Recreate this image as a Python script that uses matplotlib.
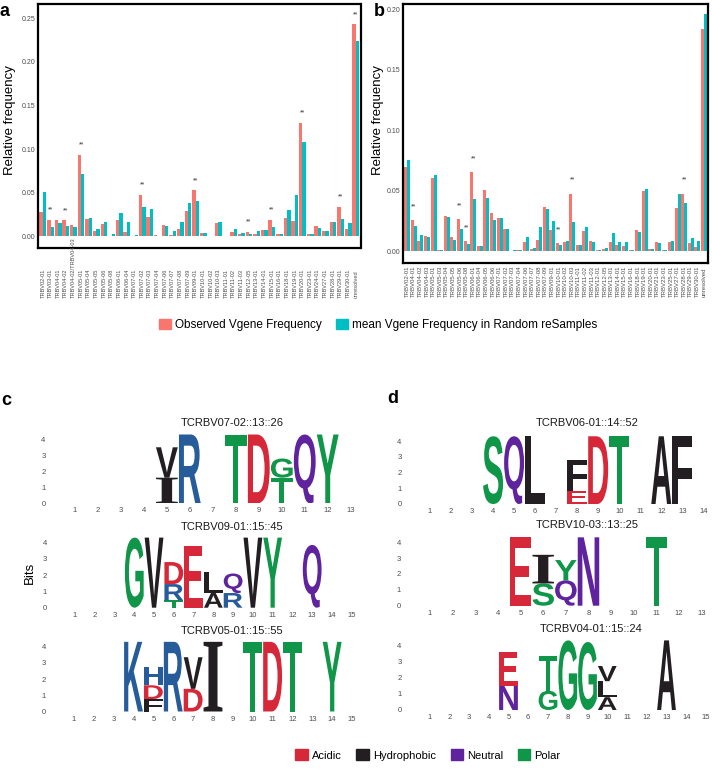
import matplotlib
matplotlib.use('Agg')
import matplotlib.pyplot as plt
import matplotlib.transforms as mtransforms
import numpy as np
from matplotlib.patches import Patch, PathPatch
from matplotlib.textpath import TextPath
from matplotlib.font_manager import FontProperties

plt.rcParams['font.family'] = ['Liberation Sans', 'DejaVu Sans']

# ---- panel a data ----
genes_a = ['TRBV02-01', 'TRBV03-01', 'TRBV04-01', 'TRBV04-02', 'TRBV04-02/TRBV04-03', 'TRBV05-01',
           'TRBV05-04', 'TRBV05-05', 'TRBV05-06', 'TRBV05-08', 'TRBV06-01', 'TRBV06-04', 'TRBV07-01',
           'TRBV07-02', 'TRBV07-03', 'TRBV07-04', 'TRBV07-06', 'TRBV07-07', 'TRBV07-08', 'TRBV07-09',
           'TRBV09-01', 'TRBV10-01', 'TRBV10-02', 'TRBV10-03', 'TRBV11-01', 'TRBV11-02', 'TRBV11-03',
           'TRBV12-05', 'TRBV13-01', 'TRBV14-01', 'TRBV15-01', 'TRBV16-01', 'TRBV18-01', 'TRBV19-01',
           'TRBV20-01', 'TRBV23-01', 'TRBV24-01', 'TRBV27-01', 'TRBV28-01', 'TRBV29-01', 'TRBV30-01',
           'unresolved']
obs_a = [0.0276, 0.019, 0.019, 0.0184, 0.0134, 0.0934, 0.0199, 0.0057, 0.0142, 0.0008, 0.0192,
         0.0046, 0.0008, 0.0479, 0.0222, 0.0019, 0.0126, 0.0012, 0.0088, 0.0295, 0.0525, 0.0038,
         0.0004, 0.0153, 0.0008, 0.0054, 0.0027, 0.0054, 0.0031, 0.0077, 0.0192, 0.0031, 0.0211,
         0.0172, 0.130, 0.0027, 0.0123, 0.0065, 0.0165, 0.0337, 0.0088, 0.243]
rnd_a = [0.0506, 0.011, 0.0153, 0.0115, 0.0103, 0.0716, 0.0211, 0.0084, 0.0165, 0.0023, 0.0268,
         0.0169, 0.0012, 0.0333, 0.0318, 0.0004, 0.0115, 0.0065, 0.0161, 0.0379, 0.041, 0.0038,
         0.0008, 0.0169, 0.0004, 0.0088, 0.0042, 0.0023, 0.0065, 0.0077, 0.0107, 0.0031, 0.0306,
         0.0472, 0.108, 0.0027, 0.0096, 0.0065, 0.0165, 0.0199, 0.0153, 0.2235]
sig_a = [1, 3, 5, 13, 20, 27, 30, 34, 39, 41]

# ---- panel b data ----
genes_b = ['TRBV02-01', 'TRBV04-01', 'TRBV04-02', 'TRBV04-03', 'TRBV05-01', 'TRBV05-03', 'TRBV05-04',
           'TRBV05-05', 'TRBV05-06', 'TRBV05-08', 'TRBV06-01', 'TRBV06-04', 'TRBV06-05', 'TRBV06-06',
           'TRBV07-01', 'TRBV07-02', 'TRBV07-03', 'TRBV07-04', 'TRBV07-06', 'TRBV07-07', 'TRBV07-08',
           'TRBV07-09', 'TRBV09-01', 'TRBV10-01', 'TRBV10-02', 'TRBV10-03', 'TRBV11-01', 'TRBV11-02',
           'TRBV11-03', 'TRBV12-01', 'TRBV12-05', 'TRBV13-01', 'TRBV14-01', 'TRBV15-01', 'TRBV16-01',
           'TRBV18-01', 'TRBV19-01', 'TRBV20-01', 'TRBV21-01', 'TRBV23-01', 'TRBV25-01', 'TRBV27-01',
           'TRBV28-01', 'TRBV29-01', 'TRBV30-01', 'unresolved']
obs_b = [0.070, 0.0256, 0.0083, 0.0124, 0.061, 0.0008, 0.029, 0.0118, 0.0264, 0.0085, 0.0656,
         0.0047, 0.0504, 0.0317, 0.0273, 0.0185, 0.0, 0.0008, 0.0077, 0.0017, 0.0094, 0.0364,
         0.0176, 0.0066, 0.0077, 0.0477, 0.005, 0.0168, 0.0085, 0.0008, 0.0019, 0.0074, 0.0052,
         0.0047, 0.0008, 0.0174, 0.0499, 0.0019, 0.0074, 0.0008, 0.0074, 0.0358, 0.0477, 0.0066,
         0.0036, 0.184]
rnd_b = [0.0755, 0.0207, 0.0135, 0.0118, 0.063, 0.0008, 0.028, 0.0094, 0.0185, 0.0058, 0.043,
         0.0041, 0.0444, 0.0262, 0.0278, 0.0185, 0.0008, 0.0008, 0.0118, 0.0025, 0.020, 0.0347,
         0.0251, 0.0052, 0.0088, 0.0242, 0.0055, 0.020, 0.0074, 0.0008, 0.0025, 0.0149, 0.0077,
         0.0077, 0.0008, 0.0157, 0.0515, 0.0019, 0.0066, 0.001, 0.0085, 0.0477, 0.040, 0.011,
         0.0085, 0.196]
sig_b = [1, 8, 9, 10, 23, 25, 42]

# ---- logo data: position -> stack of (letter, bits), bottom to top ----
title_c1 = 'TCRBV07-02::13::26'
len_c1 = 13
stacks_c1 = {5: [('I', 1.6), ('V', 1.9)], 6: [('R', 4.3)], 8: [('T', 4.3)], 9: [('D', 4.3)],
             10: [('T', 1.6), ('G', 1.2)], 11: [('Q', 4.3)], 12: [('Y', 4.3)]}

title_c2 = 'TCRBV09-01::15::45'
len_c2 = 15
stacks_c2 = {4: [('G', 4.3)], 5: [('V', 4.3)], 6: [('T', 0.45), ('R', 1.0), ('D', 1.35)],
             7: [('E', 3.8)], 8: [('A', 0.9), ('L', 1.3)], 9: [('R', 0.9), ('Q', 1.2)],
             10: [('V', 4.3)], 11: [('Y', 4.3)], 13: [('Q', 3.85)]}

title_c3 = 'TCRBV05-01::15::55'
len_c3 = 15
stacks_c3 = {4: [('K', 4.3)], 5: [('F', 0.77), ('D', 0.85), ('H', 1.12)], 6: [('R', 4.3)],
             7: [('D', 1.4), ('V', 1.95)], 8: [('I', 4.3)], 10: [('T', 4.3)], 11: [('D', 4.3)],
             12: [('T', 4.3)], 14: [('Y', 4.3)]}

title_d1 = 'TCRBV06-01::14::52'
len_d1 = 14
stacks_d1 = {4: [('S', 4.3)], 5: [('Q', 4.3)], 6: [('L', 4.3)], 8: [('E', 0.85), ('F', 1.95)],
             9: [('D', 4.3)], 10: [('T', 4.3)], 12: [('A', 4.3)], 13: [('F', 4.3)]}

title_d2 = 'TCRBV10-03::13::25'
len_d2 = 13
stacks_d2 = {5: [('E', 4.3)], 6: [('S', 1.4), ('I', 1.8)], 7: [('Q', 1.6), ('Y', 1.27)],
             8: [('N', 4.3)], 11: [('T', 4.3)]}

title_d3 = 'TCRBV04-01::15::24'
len_d3 = 15
stacks_d3 = {5: [('N', 1.5), ('E', 2.1)], 7: [('G', 1.2), ('T', 2.2)], 8: [('G', 4.35)],
             9: [('G', 4.25)], 10: [('A', 0.8), ('L', 1.0), ('V', 0.95)], 13: [('A', 4.35)]}

classes = ['Acidic', 'Hydrophobic', 'Neutral', 'Polar']

RED = '#F8766D'
CYAN = '#00BFC4'
CHEM = {'Polar': '#109648', 'Neutral': '#5E239D', 'Basic': '#255C99',
        'Acidic': '#D62839', 'Hydrophobic': '#221E22'}
AA_CLASS = {}
for a in 'GSTYC':
    AA_CLASS[a] = 'Polar'
for a in 'QN':
    AA_CLASS[a] = 'Neutral'
for a in 'KRH':
    AA_CLASS[a] = 'Basic'
for a in 'DE':
    AA_CLASS[a] = 'Acidic'
for a in 'AVLIPWFM':
    AA_CLASS[a] = 'Hydrophobic'

W, H = 712, 769
fig = plt.figure(figsize=(W / 100, H / 100), dpi=100)


def rect(l, t, r, b):
    return [l / W, 1 - b / H, (r - l) / W, (b - t) / H]


def fy(y):
    return 1 - y / H


GREY = '#4d4d4d'


def bar_panel(box, genes, obs, rnd, sig, ylim, yticks, label_fs, label_bottom):
    ax = fig.add_axes(rect(*box))
    x = np.arange(len(genes))
    ax.bar(x - 0.225, obs, width=0.45, color=RED, linewidth=0)
    ax.bar(x + 0.225, rnd, width=0.45, color=CYAN, linewidth=0)
    for i in sig:
        top = max(obs[i], rnd[i]) + 0.011
        if top < ylim[1]:
            ax.text(i, top, '**', ha='center', va='center', fontsize=5, color='#333333')
    ax.set_xlim(-0.6, len(genes) - 0.4)
    ax.set_ylim(*ylim)
    ax.set_yticks(yticks)
    ax.set_yticklabels([f'{v:.2f}' for v in yticks])
    ax.set_xticks([])
    ax.tick_params(axis='y', length=0, labelsize=5, labelcolor=GREY, pad=2)
    for s in ax.spines.values():
        s.set_linewidth(1.6)
    trans = mtransforms.blended_transform_factory(ax.transData, fig.transFigure)
    for i, g in enumerate(genes):
        ax.text(i, fy(label_bottom), g, rotation=90, ha='center', va='bottom',
                fontsize=label_fs, color=GREY, transform=trans)
    return ax


bar_panel((38.3, 4, 360.5, 248.3), genes_a, obs_a, rnd_a, sig_a, (-0.0138, 0.2664),
          [0, 0.05, 0.10, 0.15, 0.20, 0.25], 4.1, 298)
bar_panel((403.3, 4, 708, 262.7), genes_b, obs_b, rnd_b, sig_b, (-0.0094, 0.2044),
          [0, 0.05, 0.10, 0.15, 0.20], 4.3, 297)

fig.text(10 / W, fy(120), 'Relative frequency', rotation=90, ha='center', va='center', fontsize=9.5)
fig.text(378 / W, fy(120), 'Relative frequency', rotation=90, ha='center', va='center', fontsize=9.5)

leg1 = [Patch(color=RED, label='Observed Vgene Frequency'),
        Patch(color=CYAN, label='mean Vgene Frequency in Random reSamples')]
fig.legend(handles=leg1, loc='center', bbox_to_anchor=(378 / W, fy(325)), ncol=2, frameon=False,
           fontsize=8.5, handlelength=1.0, handleheight=1.0, handletextpad=0.35, columnspacing=1.2)

# ---- logos ----
letter_font = FontProperties(family='Liberation Sans', weight='bold')
serif_i_font = FontProperties(family='Liberation Serif', weight='bold')


def draw_letter(ax, ch, x, y0, h, w=0.95):
    prop = serif_i_font if ch == 'I' else letter_font
    tp = TextPath((0, 0), ch, size=1, prop=prop)
    bb = tp.get_extents()
    t = (mtransforms.Affine2D().translate(-bb.x0, -bb.y0)
         .scale(w / bb.width, h / bb.height).translate(x - w / 2, y0))
    ax.add_patch(PathPatch(t.transform_path(tp), fc=CHEM[AA_CLASS[ch]], ec='none', lw=0))


def logo_panel(l, r, zero_y, ppb, n, stacks, title, title_x):
    ymax = 4.5
    ax = fig.add_axes(rect(l, zero_y - ymax * ppb, r, zero_y))
    for pos, stack in stacks.items():
        y0 = 0
        for ch, h in stack:
            draw_letter(ax, ch, pos, y0, h)
            y0 += h
    ax.set_xlim(0.5, n + 0.5)
    ax.set_ylim(0, ymax)
    ax.set_xticks(range(1, n + 1))
    ax.set_yticks(range(0, 5))
    ax.tick_params(axis='x', length=0, labelsize=5.5, labelcolor=GREY, pad=3)
    ax.tick_params(axis='y', length=0, labelsize=5.5, labelcolor=GREY, pad=13)
    for s in ax.spines.values():
        s.set_visible(False)
    ax.patch.set_alpha(0)
    fig.text(title_x / W, fy(zero_y - 80.5), title, ha='center', va='center', fontsize=8, color='#1a1a1a')
    return ax


logo_panel(63.5, 362.2, 503.3, 16.0, len_c1, stacks_c1, title_c1, 232)
logo_panel(65.1, 361.6, 607.7, 16.3, len_c2, stacks_c2, title_c2, 232)
logo_panel(64.0, 362.0, 711.5, 16.2, len_c3, stacks_c3, title_c3, 232)
logo_panel(419.5, 713.8, 504.0, 15.75, len_d1, stacks_d1, title_d1, 587)
logo_panel(418.7, 713.0, 605.7, 15.9, len_d2, stacks_d2, title_d2, 587)
logo_panel(419.6, 715.9, 710.0, 16.0, len_d3, stacks_d3, title_d3, 591)

fig.text(30 / W, fy(573), 'Bits', rotation=90, ha='center', va='center', fontsize=9.5)

leg2 = [Patch(color=CHEM[c], label=c) for c in classes]
fig.legend(handles=leg2, loc='center', bbox_to_anchor=(428 / W, fy(755)), ncol=4, frameon=False,
           fontsize=8, handlelength=1.1, handleheight=1.1, handletextpad=0.4, columnspacing=1.3)

# panel letters
for ch, (x, y) in {'a': (5, 12), 'b': (379, 11), 'c': (6, 400), 'd': (393, 399)}.items():
    fig.text(x / W, fy(y), ch, ha='center', va='center', fontsize=13, fontweight='bold')

fig.savefig('out.png', dpi=100)
